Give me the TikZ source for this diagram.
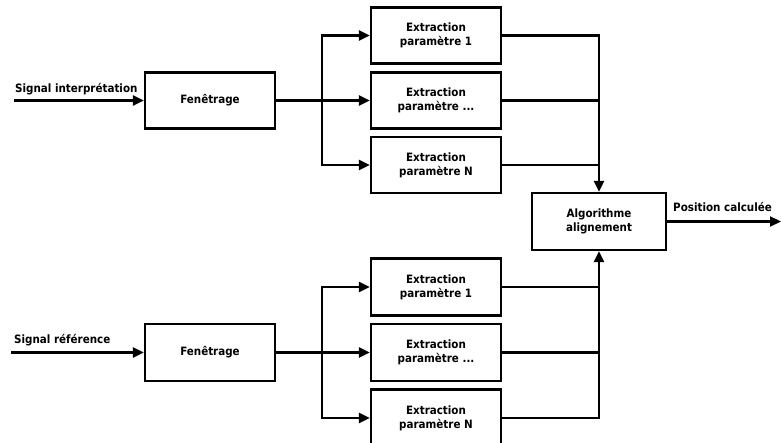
\documentclass[tikz,border=0pt]{standalone}
\usepackage{fontspec}
\setmainfont{DejaVu Sans Condensed}[BoldFont={DejaVu Sans Condensed Bold}]
\usetikzlibrary{arrows.meta,calc}
\begin{document}
\begin{tikzpicture}[x=1pt,y=-1pt,
  txt/.style={font=\fontsize{11.5}{14}\selectfont\bfseries},
  blk/.style={draw,line width=2.2pt,minimum width=130pt,minimum height=56pt,align=center,inner sep=0pt,txt},
  ln/.style={line width=2.2pt},
  arr/.style={ln,-{Triangle[length=11pt,width=10pt]}}]
\useasboundingbox (0,0) rectangle (781,443);
\clip (0,0) rectangle (781,443);
% top chain
\node[blk] (fen1) at (210,100.5) {Fenêtrage};
\node[blk] (ex1a) at (436,35.5) {Extraction\\paramètre 1};
\node[blk] (ex1b) at (436,100.5) {Extraction\\paramètre ...};
\node[blk] (ex1c) at (436,165) {Extraction\\paramètre N};
% algorithm
\node[blk,minimum width=134pt,minimum height=57pt] (alg) at (599,221.5) {Algorithme\\alignement};
% bottom chain
\node[blk,minimum height=57pt] (fen2) at (210,352.5) {Fenêtrage};
\node[blk,minimum height=57pt] (ex2a) at (436,287) {Extraction\\paramètre 1};
\node[blk,minimum height=57pt] (ex2b) at (436,352.5) {Extraction\\paramètre ...};
\node[blk,minimum height=57pt] (ex2c) at (436,418) {Extraction\\paramètre N};
% labels
\node[txt,anchor=base west,inner sep=0pt] (l1) at (15,93) {Signal interprétation};
\node[txt,anchor=base west,inner sep=0pt] (l2) at (14,343) {Signal référence};
\node[txt,anchor=base west,inner sep=0pt] (l3) at (673,212) {Position calculée};
% inputs
\coordinate (s1) at (14,100.5);
\coordinate (s2) at (11,352.5);
\draw[arr] (s1) -- (fen1.west);
\draw[arr] (s2) -- (fen2.west);
% branches top
\coordinate (b1) at (322,100.5);
\draw[arr] (fen1.east) -- (ex1b.west);
\draw[arr] (b1) |- (ex1a.west);
\draw[arr] (b1) |- (ex1c.west);
% branches bottom
\coordinate (b2) at (322,352.5);
\draw[arr] (fen2.east) -- (ex2b.west);
\draw[arr] (b2) |- (ex2a.west);
\draw[arr] (b2) |- (ex2c.west);
% merge top
\draw[arr] (ex1a.east) -| (alg.north);
\draw[ln] (ex1b.east) -- (ex1b.east -| alg.north);
\draw[ln] (ex1c.east) -- (ex1c.east -| alg.north);
% merge bottom
\draw[arr] (ex2c.east) -| (alg.south);
\draw[ln] (ex2b.east) -- (ex2b.east -| alg.south);
\draw[ln] (ex2a.east) -- (ex2a.east -| alg.south);
% output
\coordinate (o) at (781,221.5);
\draw[arr] (alg.east) -- (o);
\end{tikzpicture}
\end{document}
